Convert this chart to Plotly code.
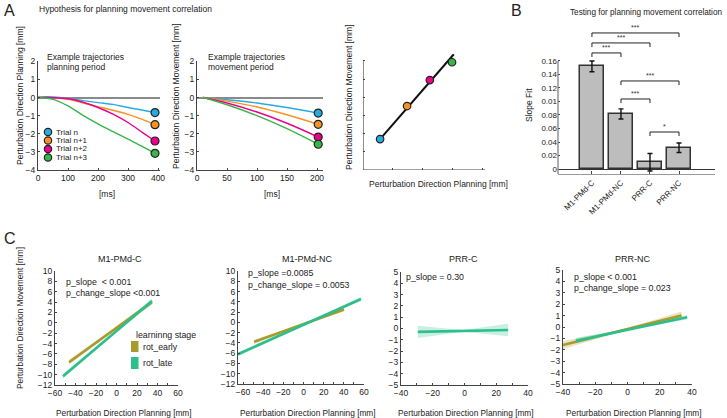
import plotly.graph_objects as go

W, H = 727, 418
FONT = "Arial, Liberation Sans, sans-serif"
TXT = "#222222"
AX = "#444444"

# ---------------- Panel A data ----------------
trial_names = ["Trial n", "Trial n+1", "Trial n+2", "Trial n+3"]
trial_colors = ["#29abe2", "#f7931e", "#ec008c", "#39b54a"]
plan_t = [0, 25, 50, 100, 150, 200, 250, 300, 350, 390]
plan_y = [
    [0, 0.04, 0.03, -0.05, -0.17, -0.28, -0.38, -0.55, -0.70, -0.83],
    [0, 0.00, -0.02, -0.10, -0.30, -0.50, -0.70, -0.93, -1.22, -1.50],
    [0, 0.00, -0.01, -0.07, -0.26, -0.55, -0.92, -1.38, -1.95, -2.40],
    [0, -0.03, -0.10, -0.46, -0.98, -1.45, -1.88, -2.30, -2.72, -3.08],
]
move_t = [10, 50, 100, 150, 202]
move_y = [
    [0, -0.12, -0.30, -0.55, -0.86],
    [0, -0.20, -0.52, -0.95, -1.48],
    [0, -0.30, -0.80, -1.42, -2.18],
    [0, -0.40, -1.00, -1.72, -2.58],
]
corr_plan = [0.57, 1.47, 2.23, 2.97]
corr_move = [1.70, 3.52, 4.95, 5.93]
fit_x = [0.57, 3.03]
fit_y = [1.70, 6.37]

# ---------------- Panel B data ----------------
regions = ["M1-PMd-C", "M1-PMd-NC", "PRR-C", "PRR-NC"]
slope_fit = [0.152, 0.0815, 0.010, 0.0315]
slope_err = [0.008, 0.0075, 0.013, 0.007]
b_ticks = [0, 0.02, 0.04, 0.06, 0.08, 0.10, 0.12, 0.14, 0.16]
b_ticktext = ["0", "0.02", "0.04", "0.06", "0.08", "0.01", "0.12", "0.14", "0.16"]
sig_pairs = [(0, 3), (0, 2), (0, 1), (1, 3), (1, 2), (2, 3)]
sig_height = [0.2015, 0.1867, 0.1719, 0.1304, 0.1037, 0.0548]
sig_label = ["***", "***", "***", "***", "***", "*"]

# ---------------- Panel C data ----------------
c_titles = ["M1-PMd-C", "M1-PMd-NC", "PRR-C", "PRR-NC"]
c_stats = [
    ["p_slope  < 0.001", "p_change_slope <0.001"],
    ["p_slope =0.0085", "p_change_slope = 0.0053"],
    ["p_slope = 0.30"],
    ["p_slope < 0.001", "p_change_slope = 0.023"],
]
# each: (x_start, x_end, y_start, y_end, ci_start, ci_mid, ci_end)
c_early = [
    (-46.3, 34.6, -7.6, 4.0, 0.5, 0.2, 0.5),
    (-49.0, 40.2, -3.8, 2.5, 0.4, 0.15, 0.4),
    None,
    (-40.0, 33.5, -1.58, 1.0, 0.35, 0.08, 0.35),
]
c_late = [
    (-52.2, 34.6, -10.3, 4.2, 0.5, 0.2, 0.5),
    (-65.0, 57.0, -6.2, 4.55, 0.4, 0.15, 0.4),
    (-29.4, 27.5, -0.30, -0.13, 0.55, 0.08, 0.55),
    (-32.0, 37.0, -1.2, 0.85, 0.25, 0.05, 0.2),
]
c_xrange = [[-60, 60], [-65, 60], [-40, 40], [-40, 40]]
c_yrange = [[-12, 10], [-12, 10], [-5, 5], [-5, 5]]
c_ydtick = [2, 2, 1, 1]
stage_names = ["rot_early", "rot_late"]
stage_colors = ["#a89a2c", "#2dbf8b"]
stage_fill = ["rgba(168,154,44,0.28)", "rgba(45,191,139,0.25)"]


def px(x):
    return x / W


def py(y):
    return 1 - y / H


def xd(a, b):
    return [a / W, b / W]


def yd(top, bottom):
    return [1 - bottom / H, 1 - top / H]


def axis(domain, rng, anchor, **kw):
    d = dict(domain=domain, range=rng, anchor=anchor, showgrid=False, zeroline=False,
             showline=True, linecolor=AX, linewidth=1.2, ticks="inside", ticklen=2,
             tickcolor=AX, tickfont=dict(size=8.5, color=TXT, family=FONT),
             automargin=False, fixedrange=True)
    d.update(kw)
    return d


fig = go.Figure()

# ---- A1 / A2 curves
for i, name in enumerate(trial_names):
    fig.add_trace(go.Scatter(x=plan_t, y=plan_y[i], mode="lines", line=dict(color=trial_colors[i], width=1.4, shape="spline"),
                             xaxis="x", yaxis="y", showlegend=False, hoverinfo="skip"))
    fig.add_trace(go.Scatter(x=[plan_t[-1]], y=[plan_y[i][-1]], mode="markers",
                             marker=dict(color=trial_colors[i], size=8, line=dict(color="#222", width=1.2)),
                             xaxis="x", yaxis="y", showlegend=False, cliponaxis=False))
    fig.add_trace(go.Scatter(x=move_t, y=move_y[i], mode="lines", line=dict(color=trial_colors[i], width=1.4, shape="spline"),
                             xaxis="x2", yaxis="y2", showlegend=False, hoverinfo="skip"))
    fig.add_trace(go.Scatter(x=[move_t[-1]], y=[move_y[i][-1]], mode="markers",
                             marker=dict(color=trial_colors[i], size=8, line=dict(color="#222", width=1.2)),
                             xaxis="x2", yaxis="y2", showlegend=False, cliponaxis=False))

# ---- A3 correlation
fig.add_trace(go.Scatter(x=fit_x, y=fit_y, mode="lines", line=dict(color="#111", width=2),
                         xaxis="x3", yaxis="y3", showlegend=False))
fig.add_trace(go.Scatter(x=corr_plan, y=corr_move, mode="markers",
                         marker=dict(color=trial_colors, size=7.5, line=dict(color="#222", width=1.2)),
                         xaxis="x3", yaxis="y3", showlegend=False, cliponaxis=False))

# ---- B bars
fig.add_trace(go.Bar(x=list(range(len(regions))), y=slope_fit, width=0.83,
                     marker=dict(color="#bdbdbd", line=dict(color="#333", width=1.5)),
                     error_y=dict(type="data", array=slope_err, color="#111", thickness=1.4, width=2.5),
                     xaxis="x4", yaxis="y4", showlegend=False))
bd = 0.006
for (i, j), h in zip(sig_pairs, sig_height):
    fig.add_trace(go.Scatter(x=[i, i, j, j], y=[h - bd, h, h, h - bd], mode="lines",
                             line=dict(color="#222", width=1), xaxis="x4", yaxis="y4",
                             showlegend=False, hoverinfo="skip"))

# ---- C panels
for k in range(4):
    xa, ya = "x%d" % (k + 5), "y%d" % (k + 5)
    for s, spec in enumerate([c_early[k], c_late[k]]):
        if spec is None:
            continue
        x0, x1, y0, y1, c0, cm, c1 = spec
        xm, ym = (x0 + x1) / 2, (y0 + y1) / 2
        fig.add_trace(go.Scatter(x=[x0, xm, x1, x1, xm, x0, x0],
                                 y=[y0 + c0, ym + cm, y1 + c1, y1 - c1, ym - cm, y0 - c0, y0 + c0],
                                 fill="toself", fillcolor=stage_fill[s], line=dict(width=0),
                                 mode="lines", xaxis=xa, yaxis=ya, showlegend=False, hoverinfo="skip"))
        fig.add_trace(go.Scatter(x=[x0, x1], y=[y0, y1], mode="lines",
                                 line=dict(color=stage_colors[s], width=2.6),
                                 xaxis=xa, yaxis=ya, showlegend=False))

layout = dict(width=W, height=H, margin=dict(l=0, r=0, t=0, b=0),
              paper_bgcolor="white", plot_bgcolor="white", showlegend=False,
              font=dict(family=FONT, color=TXT, size=8.5), bargap=0)

layout["xaxis"] = axis(xd(38, 159.5), [0, 405], "y", tickvals=[0, 100, 200, 300, 400])
layout["yaxis"] = axis(yd(61.3, 170), [-4, 2], "x", tickvals=[-4, -3, -2, -1, 0, 1, 2],
                       zeroline=True, zerolinecolor="#8a8a8a", zerolinewidth=1.5)
layout["xaxis2"] = axis(xd(197, 323), [0, 210], "y2", tickvals=[0, 50, 100, 150, 200])
layout["yaxis2"] = axis(yd(61.3, 170), [-4, 2], "x2", tickvals=[-4, -3, -2, -1, 0, 1, 2],
                        zeroline=True, zerolinecolor="#8a8a8a", zerolinewidth=1.5)
layout["xaxis3"] = axis(xd(363, 485), [0, 4.07], "y3", tickvals=[1, 2, 3, 4], showticklabels=False, showline=False)
layout["yaxis3"] = axis(yd(53.7, 170), [0, 6.4], "x3", tickvals=[1, 2, 3, 4, 5, 6], showticklabels=False, showline=False)
layout["xaxis4"] = axis(xd(558, 715), [-1.17, 4.24], "y4", tickvals=[0, 1, 2, 3], ticktext=regions,
                        tickangle=-45, linecolor="#9a9a9a", ticklen=3,
                        tickfont=dict(size=8, color=TXT, family=FONT))
layout["yaxis4"] = axis(yd(20, 174), [-0.0074, 0.2207], "x4", tickvals=b_ticks, ticktext=b_ticktext,
                        showline=False, zeroline=True, zerolinecolor="#333", zerolinewidth=1.2,
                        tickfont=dict(size=8, color=TXT, family=FONT))
c_dom_x = [(55, 178), (238, 364), (401, 528), (563, 692)]
c_dom_y = [(271, 385), (271, 384), (272, 385), (270, 384)]
for k in range(4):
    xr, yr = c_xrange[k], c_yrange[k]
    dt = c_ydtick[k]
    yt = list(range(yr[0], yr[1] + 1, dt))
    xt = [v for v in range(-60, 61, 20) if xr[0] <= v <= xr[1]]
    layout["xaxis%d" % (k + 5)] = axis(xd(*c_dom_x[k]), xr, "y%d" % (k + 5), tickvals=xt,
                                      minor=dict(dtick=10, ticks="inside", ticklen=2, tickcolor=AX))
    layout["yaxis%d" % (k + 5)] = axis(yd(*c_dom_y[k]), yr, "x%d" % (k + 5), tickvals=yt)

shapes = []
# A3 axis lines
shapes.append(dict(type="line", xref="x3", yref="y3", x0=0, x1=4.07, y0=0, y1=0, line=dict(color=AX, width=1.2)))
shapes.append(dict(type="line", xref="x3", yref="y3", x0=0, x1=0, y0=0, y1=6, line=dict(color=AX, width=1.2)))
# B y axis line
shapes.append(dict(type="line", xref="x4 domain", yref="y4", x0=0, x1=0, y0=-0.0074, y1=0.16,
                   line=dict(color="#777", width=1.2)))

ann = []


def A(text, x, y, size=8.5, xanchor="center", angle=0, color=TXT, pad=1):
    ann.append(dict(text=text, x=px(x), y=py(y), xref="paper", yref="paper", showarrow=False,
                    xanchor=xanchor, yanchor="middle", textangle=angle, borderpad=pad,
                    font=dict(size=size, color=color, family=FONT)))


A("A", 2, 11, 16, "left")
A("Hypothesis for planning movement correlation", 37, 9, 8.5, "left")
A("Example trajectories", 45, 57, 8.5, "left")
A("planning period", 45, 67, 8.5, "left")
A("Example trajectories", 206, 57, 8.5, "left")
A("movement period", 206, 67, 8.5, "left")
A("[ms]", 107, 194)
A("[ms]", 272, 194)
A("Perturbation Direction Planning [mm]", 20, 96, 8.5, angle=-90)
A("Perturbation Direction Movement [mm]", 176, 96, 8.5, angle=-90)
A("Perturbation Direction Movement [mm]", 349, 97, 8.5, angle=-90)
A("Perturbation Direction Planning [mm]", 439, 184, 8.5)
leg_y = [132, 140.5, 149, 157.5]
for i, name in enumerate(trial_names):
    A(name, 55, leg_y[i], 8, "left", pad=0)
    shapes.append(dict(type="circle", xref="paper", yref="paper", x0=px(44.3), x1=px(51.7),
                       y0=py(leg_y[i] + 3.7), y1=py(leg_y[i] - 3.7),
                       fillcolor=trial_colors[i], line=dict(color="#222", width=1.2)))

A("B", 509, 11, 16, "left")
A("Testing for planning movement correlation", 646, 12, 8.2)
A("Slope Fit", 529, 105, 8.5, angle=-90)
for (i, j), h, lab in zip(sig_pairs, sig_height, sig_label):
    ann.append(dict(text=lab, x=(i + j) / 2, y=h, xref="x4", yref="y4", showarrow=False,
                    yanchor="bottom", yshift=0, font=dict(size=7, color="#333", family=FONT)))

A("C", 2, 238, 16, "left")
c_title_x = [120, 307, 464, 632]
c_stat_pos = [(65, 282, 10.5), (247, 273, 11.5), (405, 277, 10), (573, 277, 10.5)]
c_xtitle_x = [124, 308, 466, 634]
for k in range(4):
    A(c_titles[k], c_title_x[k], 259, 9)
    xs, ys, dy = c_stat_pos[k]
    for n, line in enumerate(c_stats[k]):
        A(line, xs, ys + n * dy, 8.8, "left", pad=0)
    A("Perturbation Direction Planning [mm]", c_xtitle_x[k], 413, 8.3)
A("Perturbation Direction Movement [mm]", 20, 318, 8.3, angle=-90)
A("learninng stage", 134, 335, 8.8, "left")
sw_y = [(341, 352), (357, 369)]
for s, name in enumerate(stage_names):
    shapes.append(dict(type="rect", xref="paper", yref="paper", x0=px(131), x1=px(138.5),
                       y0=py(sw_y[s][1]), y1=py(sw_y[s][0]), fillcolor=stage_colors[s], line=dict(width=0)))
    A(name, 141, (sw_y[s][0] + sw_y[s][1]) / 2, 8.8, "left")

layout["shapes"] = shapes
layout["annotations"] = ann
fig.update_layout(**layout)
fig.write_html("out.html")
